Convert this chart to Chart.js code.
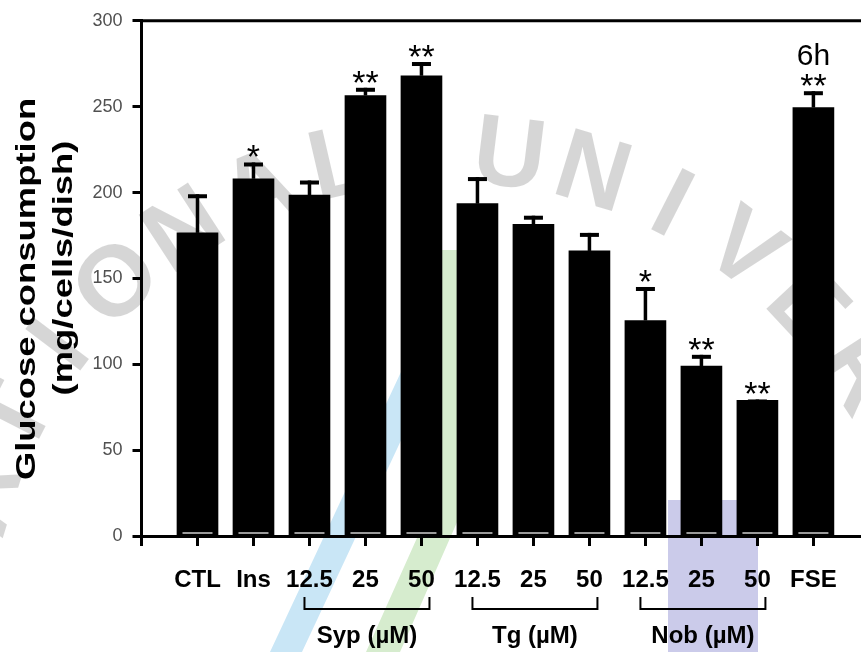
<!DOCTYPE html>
<html>
<head>
<meta charset="utf-8">
<title>Glucose consumption 6h</title>
<script src="https://cdn.jsdelivr.net/npm/chart.js@4.4.1/dist/chart.umd.min.js"></script>
<style>
  html, body { margin: 0; padding: 0; background: #fff; overflow: hidden; }
</style>
</head>
<body>
<canvas id="chart" width="861" height="652"></canvas>
<script>
// Dados
const categories = ["CTL", "Ins", "12.5", "25", "50", "12.5", "25", "50", "12.5", "25", "50", "FSE"];
const glucose = [176.5, 208, 198.5, 256.5, 268, 193.5, 181.5, 166, 125.5, 99, 79, 249.5];
const sem = [22.5, 9.5, 8.5, 4.5, 8, 15.5, 5, 10.5, 19.5, 6.5, 0.5, 9.5];
const stars = ["", "*", "", "**", "**", "", "", "", "*", "**", "**", "**"];
const yTicks = [0, 50, 100, 150, 200, 250, 300];
const groups = ["Syp (µM)", "Tg (µM)", "Nob (µM)"];
const groupFrom = [3, 6, 9];
const groupTo = [5, 8, 11];

const sans = '"Liberation Sans", Arial, sans-serif';
const xMax = 12.85; // o gráfico original está cortado à direita

// Marca d'água de fundo (faixas coloridas e texto em arco)
const watermark = {
  id: "watermark",
  beforeDraw(chart) {
    const ctx = chart.ctx;
    const poly = (pts, color) => {
      ctx.fillStyle = color;
      ctx.beginPath();
      pts.forEach(([px, py], i) => (i ? ctx.lineTo(px, py) : ctx.moveTo(px, py)));
      ctx.closePath();
      ctx.fill();
    };
    ctx.save();
    poly([[430, 310], [462, 310], [302, 652], [270, 652]], "#c9e6f6");
    poly([[440, 250], [485, 250], [458, 520], [400, 652], [366, 652], [425, 520]], "#d6ecce");
    poly([[668, 500], [758, 500], [758, 652], [668, 652]], "#cbcbea");

    const text = "NATIONAL UNIVERSITY";
    const uIdx = text.indexOf("U");
    ctx.fillStyle = "rgba(0,0,0,0.16)";
    ctx.font = `bold 100px ${sans}`;
    ctx.textAlign = "center";
    ctx.textBaseline = "middle";
    [...text].forEach((c, k) => {
      if (c === " ") return;
      const ang = ((-83 + (k - uIdx) * 10) * Math.PI) / 180;
      ctx.save();
      ctx.translate(450 + 485 * Math.cos(ang), 640 + 485 * Math.sin(ang));
      ctx.rotate(ang + Math.PI / 2);
      ctx.fillText(c, 0, 0);
      ctx.restore();
    });
    ctx.restore();
  },
};

// Barras de erro, asteriscos, colchetes e títulos
const annotate = {
  id: "annotate",
  afterDatasetsDraw(chart) {
    const { ctx, chartArea: area, scales } = chart;
    const x = scales.x, y = scales.y;
    ctx.save();

    // linha superior da moldura
    ctx.strokeStyle = "#000";
    ctx.lineWidth = 3;
    ctx.beginPath();
    ctx.moveTo(area.left - 1.5, area.top);
    ctx.lineTo(chart.width, area.top);
    ctx.stroke();

    glucose.forEach((v, i) => {
      const cx = x.getPixelForValue(i + 1);
      const yBar = y.getPixelForValue(v);
      const yErr = y.getPixelForValue(v + sem[i]);
      ctx.fillStyle = "#9a9a9a";
      ctx.fillRect(cx - 15, area.bottom - 4, 30, 2);
      ctx.fillStyle = "#000";
      ctx.fillRect(cx - 1.75, yErr, 3.5, yBar - yErr);
      ctx.fillRect(cx - 9.5, yErr, 19, 4);
      if (stars[i]) {
        ctx.font = `34px ${sans}`;
        ctx.textAlign = "center";
        ctx.textBaseline = "alphabetic";
        ctx.fillText(stars[i], cx, yErr + 6);
      }
    });

    // 6h
    ctx.font = `30px ${sans}`;
    ctx.textAlign = "center";
    ctx.textBaseline = "alphabetic";
    ctx.fillText("6h", x.getPixelForValue(categories.length), 65);

    // colchetes dos grupos
    ctx.lineWidth = 2;
    ctx.font = `bold 24px ${sans}`;
    groups.forEach((g, k) => {
      const x0 = x.getPixelForValue(groupFrom[k]) - 5;
      const x1 = x.getPixelForValue(groupTo[k]) + 8;
      const top = area.bottom + 61, bot = area.bottom + 73;
      ctx.beginPath();
      ctx.moveTo(x0, top);
      ctx.lineTo(x0, bot);
      ctx.lineTo(x1, bot);
      ctx.lineTo(x1, top);
      ctx.stroke();
      ctx.fillText(g, (x0 + x1) / 2, area.bottom + 107);
    });

    // título do eixo y (esticado como no original)
    ctx.font = `bold 28px ${sans}`;
    [["Glucose consumption", 35, 289], ["(mg/cells/dish)", 72, 268]].forEach(([t, tx, ty]) => {
      ctx.save();
      ctx.translate(tx, ty);
      ctx.rotate(-Math.PI / 2);
      ctx.scale(1.3, 1);
      ctx.fillText(t, 0, 0);
      ctx.restore();
    });
    ctx.restore();
  },
};

new Chart(document.getElementById("chart"), {
  type: "bar",
  data: {
    datasets: [
      {
        data: glucose.map((v, i) => ({ x: i + 1, y: v })),
        backgroundColor: "#000",
        borderWidth: 0,
        barThickness: 41,
      },
    ],
  },
  options: {
    responsive: false,
    animation: false,
    layout: { padding: { left: 0, right: 0, top: 19, bottom: 0 } },
    plugins: { legend: { display: false }, tooltip: { enabled: false } },
    scales: {
      x: {
        type: "linear",
        offset: false,
        min: 0,
        max: xMax,
        afterBuildTicks: (s) => {
          s.ticks = [0, ...categories.map((c, i) => i + 1)].map((v) => ({ value: v }));
        },
        afterFit: (s) => {
          s.height = 116;
        },
        grid: { offset: false, drawOnChartArea: false, drawTicks: true, tickLength: 10, tickWidth: 3, tickColor: "#000" },
        border: { color: "#000", width: 3 },
        ticks: {
          callback: (v) => categories[v - 1] || "",
          autoSkip: false,
          maxRotation: 0,
          color: "#000",
          padding: 20,
          font: { family: sans, size: 24, weight: "bold" },
        },
      },
      y: {
        min: 0,
        max: 300,
        afterBuildTicks: (s) => {
          s.ticks = yTicks.map((v) => ({ value: v }));
        },
        afterFit: (s) => {
          s.width = 141.5;
        },
        grid: { drawOnChartArea: false, drawTicks: true, tickLength: 9, tickWidth: 3, tickColor: "#000" },
        border: { color: "#000", width: 3 },
        ticks: { color: "#505050", padding: 10, font: { family: sans, size: 18 } },
      },
    },
  },
  plugins: [watermark, annotate],
});
</script>
</body>
</html>
